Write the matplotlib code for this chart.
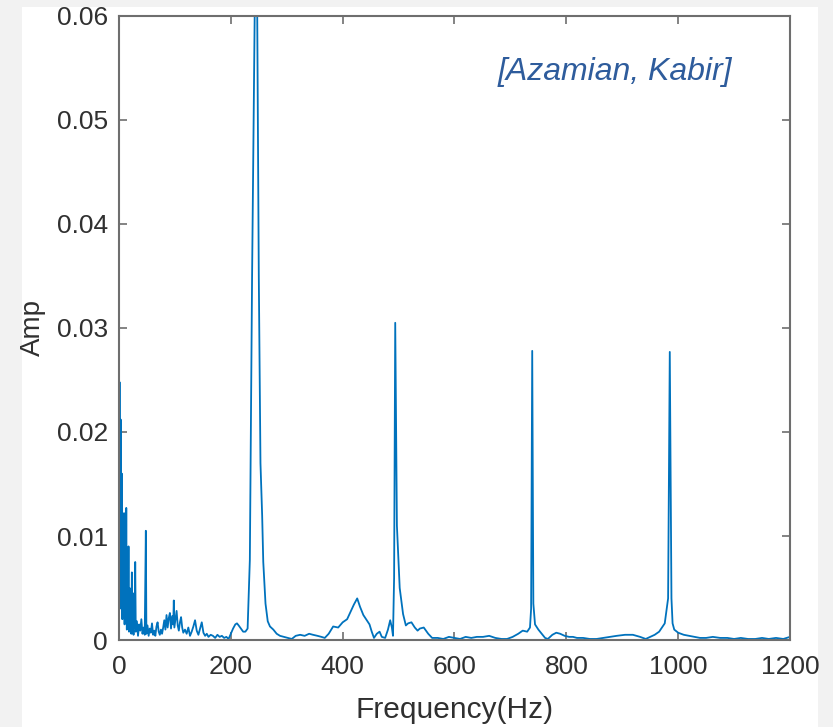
import matplotlib
matplotlib.use("Agg")
import matplotlib.pyplot as plt
from matplotlib.patches import Rectangle

plt.rcParams['font.family'] = ['Liberation Sans', 'DejaVu Sans']

# ---- data ----
freq = [0, 1, 2, 3, 4, 5, 6, 7, 8, 9, 10, 11, 12, 13, 14, 15, 16, 17, 18, 19,
        20, 21, 22, 23, 24, 25, 26, 27, 28, 29, 30, 32, 34, 36, 38, 40, 42, 44,
        46, 48, 49, 51, 53, 55, 57, 59, 61, 63, 65, 67, 69, 71, 73, 75, 77, 79,
        81, 83, 85, 87, 89, 91, 93, 95, 97, 98, 99, 101, 103, 105, 107, 109,
        111, 113, 115, 118, 121, 124, 127, 130, 133, 136, 139, 142, 145, 148,
        151, 154, 157, 160, 164, 168, 172, 176, 180, 184, 188, 192, 196, 200,
        204, 208, 211, 214, 218, 222, 226, 230, 234, 238, 243, 245, 247, 250,
        253, 255, 256, 258, 262, 266, 270, 276, 282, 288, 295, 302, 309, 316,
        324, 332, 340, 347, 355, 362, 368, 375, 383, 392, 400, 408, 414, 420,
        426, 431, 437, 443, 448, 452, 456, 461, 466, 470, 476, 481, 485, 488,
        490, 492, 494, 497, 502, 508, 513, 517, 523, 529, 534, 538, 545, 553,
        560, 570, 580, 590, 600, 610, 620, 630, 640, 651, 662, 673, 684, 694,
        704, 714, 722, 730, 735, 737, 739, 741, 744, 750, 756, 762, 767, 775,
        782, 789, 797, 805, 812, 819, 830, 842, 854, 866, 878, 890, 905, 919,
        932, 942, 950, 958, 966, 976, 982, 985, 988, 990, 993, 1000, 1010,
        1020, 1030, 1039, 1050, 1062, 1075, 1088, 1100, 1112, 1125, 1138,
        1150, 1162, 1175, 1188, 1200]
amp = [0.0020, 0.0248, 0.0040, 0.0212, 0.0030, 0.0160, 0.0020, 0.0115,
       0.0025, 0.0122, 0.0015, 0.0090, 0.0020, 0.0127, 0.0010, 0.0085,
       0.0015, 0.0090, 0.0008, 0.0050, 0.0012, 0.0035, 0.0006, 0.0065,
       0.0010, 0.0025, 0.0005, 0.0045, 0.0012, 0.0075, 0.0008, 0.0018,
       0.0004, 0.0015, 0.0009, 0.0020, 0.0006, 0.0012, 0.0005, 0.0105,
       0.0006, 0.0014, 0.0004, 0.0011, 0.0007, 0.0016, 0.0005, 0.0009,
       0.0004, 0.0013, 0.0017, 0.0008, 0.0005, 0.0010, 0.0006, 0.0012,
       0.0019, 0.0010, 0.0024, 0.0012, 0.0021, 0.0026, 0.0011, 0.0023,
       0.0015, 0.0038, 0.0012, 0.0020, 0.0028, 0.0014, 0.0009, 0.0017,
       0.0022, 0.0012, 0.0007, 0.0010, 0.0006, 0.0012, 0.0004, 0.0008,
       0.0013, 0.0019, 0.0009, 0.0005, 0.0011, 0.0017, 0.0007, 0.0004,
       0.0006, 0.0003, 0.0005, 0.0004, 0.0002, 0.0005, 0.0003, 0.0004,
       0.0002, 0.0003, 0.0001, 0.0006, 0.0011, 0.0015, 0.0016, 0.0014,
       0.0011, 0.0008, 0.0008, 0.0011, 0.0077, 0.0350, 0.0620, 0.1000,
       0.0620, 0.0350, 0.0170, 0.0138, 0.0120, 0.0075, 0.0035, 0.0018,
       0.0013, 0.0010, 0.0006, 0.0004, 0.0003, 0.0002, 0.0001, 0.0004,
       0.0005, 0.0004, 0.0006, 0.0005, 0.0004, 0.0003, 0.0002, 0.0006,
       0.0013, 0.0012, 0.0017, 0.0020, 0.0027, 0.0034, 0.0040, 0.0032,
       0.0024, 0.0019, 0.0015, 0.0008, 0.0002, 0.0006, 0.0008, 0.0003,
       0.0002, 0.0010, 0.0019, 0.0012, 0.0004, 0.0060, 0.0305, 0.0110,
       0.0050, 0.0025, 0.0014, 0.0016, 0.0017, 0.0012, 0.0009, 0.0011,
       0.0012, 0.0006, 0.0002, 0.0002, 0.0001, 0.0003, 0.0002, 0.0001,
       0.0003, 0.0002, 0.0003, 0.0003, 0.0004, 0.0002, 0.0001, 0.0001,
       0.0003, 0.0006, 0.0009, 0.0008, 0.0012, 0.0030, 0.0278, 0.0035,
       0.0015, 0.0010, 0.0006, 0.0002, 0.0001, 0.0005, 0.0007, 0.0006,
       0.0004, 0.0003, 0.0003, 0.0002, 0.0002, 0.0001, 0.0001, 0.0002,
       0.0003, 0.0004, 0.0005, 0.0005, 0.0003, 0.0001, 0.0003, 0.0005,
       0.0008, 0.0016, 0.0040, 0.0277, 0.0040, 0.0016, 0.0010, 0.0007,
       0.0005, 0.0004, 0.0003, 0.0002, 0.0002, 0.0003, 0.0002, 0.0002,
       0.0001, 0.0002, 0.0001, 0.0001, 0.0002, 0.0001, 0.0002, 0.0001,
       0.0003]

xticks = [0, 200, 400, 600, 800, 1000, 1200]
yticks = [0, 0.01, 0.02, 0.03, 0.04, 0.05, 0.06]
ytick_labels = ['0', '0.01', '0.02', '0.03', '0.04', '0.05', '0.06']

W, H = 833, 727
fig = plt.figure(figsize=(W / 100, H / 100), dpi=100)
fig.patch.set_facecolor('#f2f2f2')
fig.patches.append(Rectangle((22 / W, 0), (818 - 22) / W, (727 - 7) / H,
                             transform=fig.transFigure, facecolor='white',
                             edgecolor='none', zorder=-10))

ax = fig.add_axes([119 / W, 1 - 640 / H, (790 - 119) / W, (640 - 16) / H])
ax.set_zorder(5)
ax.set_facecolor('white')
ax.plot(freq, amp, color='#0072BD', lw=1.3, clip_on=True)

ax.set_xlim(0, 1200)
ax.set_ylim(0, 0.06)
ax.set_xticks(xticks)
ax.set_xticklabels([str(t) for t in xticks])
ax.set_yticks(yticks)
ax.set_yticklabels(ytick_labels)

spine_c = '#6e6e6e'
for s in ax.spines.values():
    s.set_color(spine_c)
    s.set_linewidth(1.5)
ax.tick_params(direction='in', length=6, width=1.2, color=spine_c,
               top=True, right=True, labelsize=19, labelcolor='#303030')
ax.tick_params(axis='x', pad=11)
ax.tick_params(axis='y', pad=8)

ax.set_xlabel('Frequency(Hz)', fontsize=21.5, color='#303030', labelpad=12)
ax.set_ylabel('Amp', fontsize=20, color='#303030', labelpad=8)

fig.text(615 / W, 1 - 72 / H, '[Azamian, Kabir]', fontsize=23,
         style='italic', color='#2E5C9C', ha='center', va='center',
         zorder=10)

fig.savefig('out.png', dpi=100, facecolor=fig.get_facecolor())
